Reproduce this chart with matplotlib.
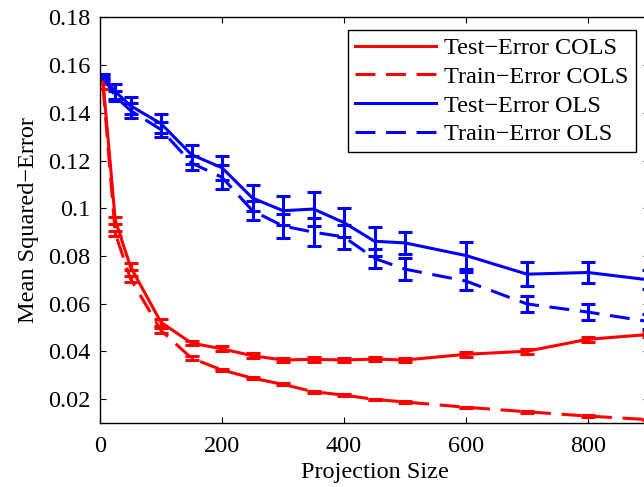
import numpy as np
import matplotlib.pyplot as plt

# projection sizes
proj = [5, 25, 50, 100, 150, 200, 250, 300, 350, 400, 450, 500, 600, 700, 800, 900]

# COLS
test_cols = [0.153, 0.095, 0.0755, 0.0522, 0.0435, 0.0411, 0.0382, 0.0364, 0.0367, 0.0364,
             0.0368, 0.0364, 0.0388, 0.0401, 0.0451, 0.0471]
test_cols_err = [0.001, 0.0015, 0.0015, 0.0015, 0.001, 0.001, 0.001, 0.001, 0.001, 0.001,
                 0.001, 0.001, 0.001, 0.001, 0.001, 0.001]
train_cols = [0.151, 0.0895, 0.0705, 0.0488, 0.0372, 0.0322, 0.0288, 0.0262, 0.0231, 0.0217,
              0.0199, 0.0188, 0.0166, 0.0147, 0.0129, 0.0114]
train_cols_err = [0.001, 0.001, 0.0012, 0.001, 0.0008, 0.0005, 0.0005, 0.0004, 0.0004, 0.0003,
                  0.0003, 0.0003, 0.0003, 0.0003, 0.0003, 0.0003]

# OLS
test_ols = [0.1555, 0.149, 0.143, 0.1355, 0.1225, 0.117, 0.1043, 0.099, 0.0997, 0.094,
            0.0862, 0.0855, 0.0802, 0.0724, 0.0731, 0.070]
test_ols_err = [0.001, 0.003, 0.0035, 0.004, 0.004, 0.005, 0.0055, 0.006, 0.007, 0.006,
                0.006, 0.0045, 0.0057, 0.005, 0.0044, 0.004]
train_ols = [0.155, 0.147, 0.141, 0.133, 0.119, 0.113, 0.099, 0.0926, 0.090, 0.088,
             0.079, 0.0745, 0.0695, 0.0599, 0.0565, 0.0525]
train_ols_err = [0.001, 0.002, 0.003, 0.003, 0.003, 0.005, 0.004, 0.005, 0.006, 0.005,
                 0.004, 0.0046, 0.0036, 0.0034, 0.0034, 0.003]

labels = ["Test\u2212Error COLS", "Train\u2212Error COLS", "Test\u2212Error OLS", "Train\u2212Error OLS"]
yticks = [0.02, 0.04, 0.06, 0.08, 0.1, 0.12, 0.14, 0.16, 0.18]
ytick_labels = ["0.02", "0.04", "0.06", "0.08", "0.1", "0.12", "0.14", "0.16", "0.18"]
xticks = [0, 200, 400, 600, 800]

plt.rcParams["font.family"] = ["Liberation Serif", "DejaVu Serif"]
plt.rcParams["font.size"] = 17.5

fig = plt.figure(figsize=(6.44, 4.87), dpi=100)
ax = fig.add_axes([100 / 644, 64 / 487, 549 / 644, 405.5 / 487])

series = [
    (test_cols, test_cols_err, "red", "-"),
    (train_cols, train_cols_err, "red", "--"),
    (test_ols, test_ols_err, "blue", "-"),
    (train_ols, train_ols_err, "blue", "--"),
]
handles = []
for (vals, err, col, ls), lab in zip(series, labels):
    c = ax.errorbar(proj, vals, yerr=err, color=col, linestyle=ls, linewidth=2.2,
                    elinewidth=2.2, capsize=5, capthick=2.2, label=lab)
    if ls == "--":
        c.lines[0].set_dashes((6.5, 3.5))
    handles.append(c.lines[0])

ax.set_xlim(0, 900)
ax.set_ylim(0.01, 0.18)
ax.set_xticks(xticks)
ax.set_yticks(yticks)
ax.set_yticklabels(ytick_labels)
ax.tick_params(direction="in", length=4, top=True, right=True, labelsize=17.5)
ax.tick_params(axis="x", pad=9)
ax.tick_params(axis="y", pad=7)
for s in ax.spines.values():
    s.set_linewidth(1)

ax.set_xlabel("Projection Size", fontsize=17.5, labelpad=4)
ax.set_ylabel("Mean Squared\u2212Error", fontsize=17.5, labelpad=6)

leg = ax.legend(handles, labels, loc="upper right", bbox_to_anchor=(0.976, 0.969),
                borderaxespad=0, fancybox=False, framealpha=1, edgecolor="black",
                fontsize=17.5, handlelength=3.3, handletextpad=0.35, labelspacing=0.27,
                borderpad=0.3)
leg.get_frame().set_linewidth(1)

fig.savefig("out.png", dpi=100)
